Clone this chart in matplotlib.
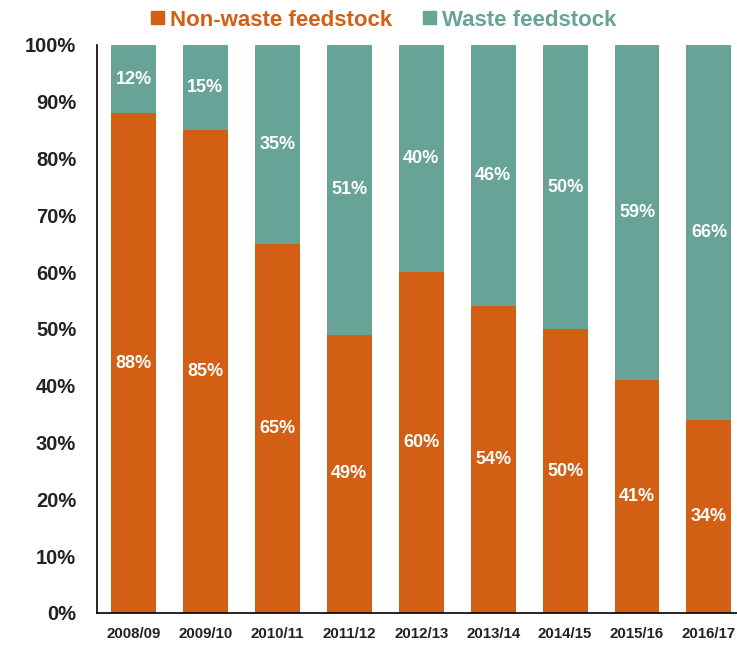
import matplotlib
matplotlib.use("Agg")
import matplotlib.pyplot as plt
from matplotlib.patches import Patch

years = ["2008/09", "2009/10", "2010/11", "2011/12", "2012/13",
         "2013/14", "2014/15", "2015/16", "2016/17"]
non_waste = [88, 85, 65, 49, 60, 54, 50, 41, 34]
waste = [12, 15, 35, 51, 40, 46, 50, 59, 66]
yticks = [0, 10, 20, 30, 40, 50, 60, 70, 80, 90, 100]

orange = "#D35F14"
teal = "#67A497"

plt.rcParams['font.family'] = ['Liberation Sans', 'DejaVu Sans']

fig = plt.figure(figsize=(7.37, 6.46), dpi=100)
ax = fig.add_axes([97/737, 1 - 613/646, (737 - 97)/737, (613 - 45)/646])

x = list(range(len(years)))
w = 0.625
ax.bar(x, non_waste, width=w, color=orange)
ax.bar(x, waste, width=w, bottom=non_waste, color=teal)

for i in x:
    ax.text(i, non_waste[i] / 2, f"{non_waste[i]}%", ha="center", va="center",
            color="white", fontsize=13, fontweight="bold")
    ax.text(i, non_waste[i] + waste[i] / 2, f"{waste[i]}%", ha="center", va="center",
            color="white", fontsize=13, fontweight="bold")

ax.set_xlim(-0.507, 8.39)
ax.set_ylim(0, 100)
ax.set_yticks(yticks)
ax.set_yticklabels([f"{t}%" for t in yticks], fontsize=14.5, fontweight="bold", color="#222222")
ax.set_xticks(x)
ax.set_xticklabels(years, fontsize=10.8, fontweight="bold", color="#222222")
ax.tick_params(axis="both", length=0)
ax.tick_params(axis="y", pad=15)
ax.tick_params(axis="x", pad=10)
for s in ["top", "right"]:
    ax.spines[s].set_visible(False)
for s in ["left", "bottom"]:
    ax.spines[s].set_color("black")
    ax.spines[s].set_linewidth(1.2)

handles = [Patch(color=orange), Patch(color=teal)]
leg = fig.legend(handles, ["Non-waste feedstock", "Waste feedstock"],
                 loc="center", bbox_to_anchor=(384/737, 1 - 20/646), ncol=2,
                 frameon=False, handlelength=0.55, handleheight=0.55, handletextpad=0.3,
                 columnspacing=1.4, prop={"size": 16, "weight": "bold"})
for t, c in zip(leg.get_texts(), [orange, teal]):
    t.set_color(c)

fig.savefig("out.png", dpi=100)
